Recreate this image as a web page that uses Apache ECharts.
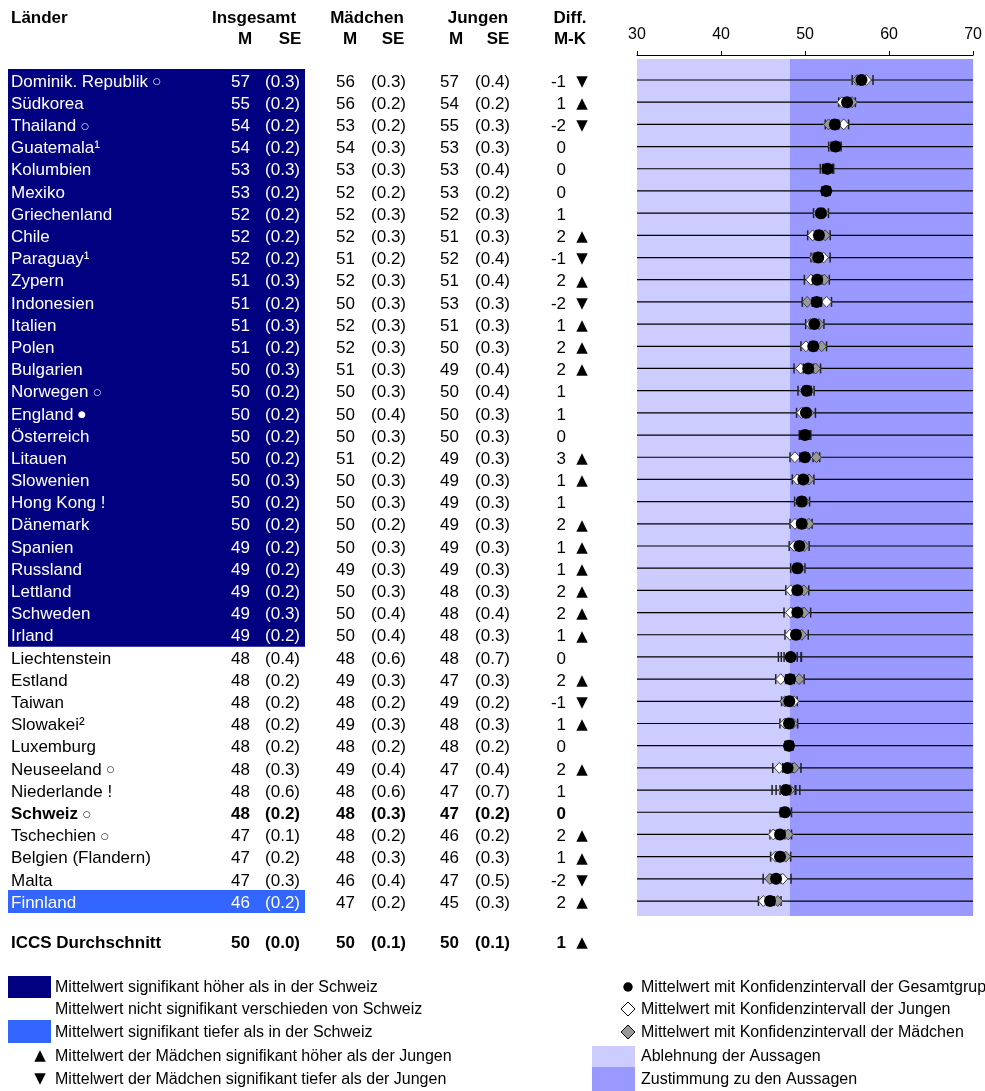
<!DOCTYPE html>
<html>
<head>
<meta charset="utf-8">
<script src="https://cdn.jsdelivr.net/npm/echarts@6.0.0/dist/echarts.min.js"></script>
<style>
  html, body { margin: 0; padding: 0; background: #fff; }
  #chart { width: 985px; height: 1091px; }
</style>
</head>
<body>
<div id="chart"></div>
<script>
// ---- data ----
const countries = ['Dominik. Republik', 'Südkorea', 'Thailand', 'Guatemala¹', 'Kolumbien', 'Mexiko', 'Griechenland', 'Chile', 'Paraguay¹', 'Zypern', 'Indonesien', 'Italien', 'Polen', 'Bulgarien', 'Norwegen', 'England', 'Österreich', 'Litauen', 'Slowenien', 'Hong Kong !', 'Dänemark', 'Spanien', 'Russland', 'Lettland', 'Schweden', 'Irland', 'Liechtenstein', 'Estland', 'Taiwan', 'Slowakei²', 'Luxemburg', 'Neuseeland', 'Niederlande !', 'Schweiz', 'Tschechien', 'Belgien (Flandern)', 'Malta', 'Finnland']
const nameMarks = ['○', '', '○', '', '', '', '', '', '', '', '', '', '', '', '○', '●', '', '', '', '', '', '', '', '', '', '', '', '', '', '', '', '○', '', '○', '○', '', '', '']
// 'h' = signifikant höher, 'l' = signifikant tiefer, '' = nicht signifikant
const sigGroup = ['h', 'h', 'h', 'h', 'h', 'h', 'h', 'h', 'h', 'h', 'h', 'h', 'h', 'h', 'h', 'h', 'h', 'h', 'h', 'h', 'h', 'h', 'h', 'h', 'h', 'h', '', '', '', '', '', '', '', '', '', '', '', 'l']

const totalM = [57, 55, 54, 54, 53, 53, 52, 52, 52, 51, 51, 51, 51, 50, 50, 50, 50, 50, 50, 50, 50, 49, 49, 49, 49, 49, 48, 48, 48, 48, 48, 48, 48, 48, 47, 47, 47, 46]
const totalSE = [0.3, 0.2, 0.2, 0.2, 0.3, 0.2, 0.2, 0.2, 0.2, 0.3, 0.2, 0.3, 0.2, 0.3, 0.2, 0.2, 0.2, 0.2, 0.3, 0.2, 0.2, 0.2, 0.2, 0.2, 0.3, 0.2, 0.4, 0.2, 0.2, 0.2, 0.2, 0.3, 0.6, 0.2, 0.1, 0.2, 0.3, 0.2]
const girlsM = [56, 56, 53, 54, 53, 52, 52, 52, 51, 52, 50, 52, 52, 51, 50, 50, 50, 51, 50, 50, 50, 50, 49, 50, 50, 50, 48, 49, 48, 49, 48, 49, 48, 48, 48, 48, 46, 47]
const girlsSE = [0.3, 0.2, 0.2, 0.3, 0.3, 0.2, 0.3, 0.3, 0.2, 0.3, 0.3, 0.3, 0.3, 0.3, 0.3, 0.4, 0.3, 0.2, 0.3, 0.3, 0.2, 0.3, 0.3, 0.3, 0.4, 0.4, 0.6, 0.3, 0.2, 0.3, 0.2, 0.4, 0.6, 0.3, 0.2, 0.3, 0.4, 0.2]
const boysM = [57, 54, 55, 53, 53, 53, 52, 51, 52, 51, 53, 51, 50, 49, 50, 50, 50, 49, 49, 49, 49, 49, 49, 48, 48, 48, 48, 47, 49, 48, 48, 47, 47, 47, 46, 46, 47, 45]
const boysSE = [0.4, 0.2, 0.3, 0.3, 0.4, 0.2, 0.3, 0.3, 0.4, 0.4, 0.3, 0.3, 0.3, 0.4, 0.4, 0.3, 0.3, 0.3, 0.3, 0.3, 0.3, 0.3, 0.3, 0.3, 0.4, 0.3, 0.7, 0.3, 0.2, 0.3, 0.2, 0.4, 0.7, 0.2, 0.2, 0.3, 0.5, 0.3]
const diffMK = [-1, 1, -2, 0, 0, 0, 1, 2, -1, 2, -2, 1, 2, 2, 1, 1, 0, 3, 1, 1, 2, 1, 1, 2, 2, 1, 0, 2, -1, 1, 0, 2, 1, 0, 2, 1, -2, 2]
const diffSig = ['▼', '▲', '▼', '', '', '', '', '▲', '▼', '▲', '▼', '▲', '▲', '▲', '', '', '', '▲', '▲', '', '▲', '▲', '▲', '▲', '▲', '▲', '', '▲', '▼', '▲', '', '▲', '', '', '▲', '▲', '▼', '▲']

// unrounded means as plotted
const plotTotal = [56.72, 55.0, 53.55, 53.63, 52.68, 52.52, 51.89, 51.65, 51.57, 51.45, 51.38, 51.1, 50.98, 50.38, 50.19, 50.11, 49.99, 49.99, 49.79, 49.6, 49.6, 49.32, 49.08, 49.08, 49.08, 48.92, 48.29, 48.21, 48.13, 48.09, 48.09, 47.93, 47.73, 47.61, 47.02, 47.02, 46.55, 45.83]
const plotGirls = [56.2, 55.6, 52.8, 53.7, 52.8, 52.4, 52.2, 52.4, 51.1, 52.3, 50.26, 51.66, 51.97, 51.26, 50.49, 50.45, 50.1, 51.35, 50.47, 49.95, 50.45, 49.9, 49.4, 49.85, 49.88, 49.6, 48.35, 49.3, 47.6, 48.53, 48.2, 48.73, 48.2, 47.8, 48.0, 47.7, 45.8, 46.75]
const plotBoys = [57.3, 54.4, 54.6, 53.4, 52.6, 52.6, 51.6, 50.9, 52.2, 50.7, 52.56, 50.66, 50.1, 49.47, 49.95, 49.58, 49.9, 48.8, 49.07, 49.35, 48.8, 48.7, 48.87, 48.3, 48.28, 48.2, 48.2, 47.1, 48.68, 47.6, 48.0, 46.94, 47.45, 47.45, 46.22, 46.49, 47.35, 45.04]

const avgLabel = 'ICCS Durchschnitt'
const avgValues = [50, 0.0, 50, 0.1, 50, 0.1]
const avgDiff = 1
const avgSig = '▲'
const avgRow = 38.8

// scale background: Ablehnung / Zustimmung
const bands = [[30, 48.2, '#CCCCFF'], [48.2, 70, '#9999FF']]
const bandRows = [-0.95, 37.67]
const xTicks = [30, 40, 50, 60, 70]

// ---- layout ----
const FONT = "'Liberation Sans', Arial, Helvetica, sans-serif"
const colRight = [250, 300, 355, 406, 459, 510, 566]
const arrowX = 582
const rowShift = 2
const navy = '#000080'
const lightBlue = '#3366FF'

const chart = echarts.init(document.getElementById('chart'))

function txt(x, y, text, align, color, bold, size, family) {
  return {
    type: 'text',
    style: {
      text: text, x: x, y: y, fill: color,
      fontSize: size || 17, fontFamily: family || FONT, fontWeight: bold ? 'bold' : 'normal',
      align: align, verticalAlign: 'middle', textAlign: align, textVerticalAlign: 'middle',
      rich: { s: { fontSize: 9, fontFamily: 'DejaVu Sans', fill: color } },
    },
  }
}

function renderTable(params, api) {
  const i = api.value(1)
  const kind = api.value(2)
  const coord = (x, r) => api.coord([x, r])
  const y = coord(0, i)[1] + rowShift
  const children = []
  let name, vals, d, arrow, color = '#000', bold = false
  if (kind === 1) {
    name = avgLabel
    vals = avgValues
    d = avgDiff
    arrow = avgSig
    bold = true
  } else {
    name = countries[i] + (nameMarks[i] ? ' {s|' + nameMarks[i] + '}' : '')
    vals = [totalM[i], totalSE[i], girlsM[i], girlsSE[i], boysM[i], boysSE[i]]
    d = diffMK[i]
    arrow = diffSig[i]
    bold = countries[i] === 'Schweiz'
    if (sigGroup[i]) {
      const top = coord(8, i - 0.5), bot = coord(305, i + 0.5)
      children.push({
        type: 'rect',
        shape: { x: top[0], y: top[1], width: bot[0] - top[0], height: bot[1] - top[1] + 1 },
        style: { fill: sigGroup[i] === 'h' ? navy : lightBlue },
      })
      color = '#fff'
    }
  }
  children.push(txt(coord(11, i)[0], y, name, 'left', color, bold))
  vals.forEach((v, k) => {
    const s = k % 2 === 0 ? String(v) : '(' + v.toFixed(1) + ')'
    // only the Insgesamt columns sit on the coloured band
    children.push(txt(coord(colRight[k], i)[0], y, s, 'right', k < 2 ? color : '#000', bold))
  })
  children.push(txt(coord(colRight[6], i)[0], y, String(d), 'right', '#000', bold))
  if (arrow) children.push(txt(coord(arrowX, i)[0], y, arrow, 'center', '#000', false, 15, 'DejaVu Sans'))
  return { type: 'group', children: children }
}

function diamond(x, y, fill) {
  return {
    type: 'polygon',
    shape: { points: [[x - 5, y], [x, y - 5.5], [x + 5, y], [x, y + 5.5]] },
    style: { fill: fill, stroke: '#444', lineWidth: 1 },
  }
}

function renderPlot(params, api) {
  const i = api.value(0)
  const y = api.coord([30, i])[1]
  const x0 = api.coord([30, i])[0], x1 = api.coord([70, i])[0]
  const children = [{
    type: 'line',
    shape: { x1: x0, y1: y, x2: x1, y2: y },
    style: { stroke: '#000', lineWidth: 1.2 },
  }]
  const groups = [[api.value(1), api.value(4)], [api.value(2), api.value(5)], [api.value(3), api.value(6)]]
  groups.forEach(([m, se]) => {
    [m - 1.96 * se, m + 1.96 * se].forEach((e) => {
      const x = api.coord([e, i])[0]
      children.push({
        type: 'line',
        shape: { x1: x, y1: y - 5, x2: x, y2: y + 5 },
        style: { stroke: '#222', lineWidth: 1.5 },
      })
    })
  })
  children.push(diamond(api.coord([api.value(2), i])[0], y, '#999'))
  children.push(diamond(api.coord([api.value(3), i])[0], y, '#fff'))
  children.push({
    type: 'circle',
    shape: { cx: api.coord([api.value(1), i])[0], cy: y, r: 6 },
    style: { fill: '#000' },
  })
  return { type: 'group', children: children }
}

function renderBand(params, api) {
  const a = api.coord([api.value(0), bandRows[0]])
  const b = api.coord([api.value(1), bandRows[1]])
  return {
    type: 'rect',
    shape: { x: a[0], y: a[1], width: b[0] - a[0], height: b[1] - a[1] },
    style: { fill: bands[params.dataIndex][2] },
  }
}

const tableData = countries.map((c, i) => [0, i, 0]).concat([[0, avgRow, 1]])
const plotData = countries.map((c, i) => [i, plotTotal[i], plotGirls[i], plotBoys[i], totalSE[i], girlsSE[i], boysSE[i]])

const yCommon = { type: 'value', inverse: true, min: -1.127, max: 39.5, show: false }

const hdr = (x, y, text, align) => ({
  type: 'text', x: x, y: y,
  style: { text: text, fill: '#000', font: 'bold 17px ' + FONT, textAlign: align, textVerticalAlign: 'middle' },
})
const leg = (x, y, text) => ({
  type: 'text', x: x, y: y,
  style: { text: text, fill: '#000', font: '16px ' + FONT, textAlign: 'left', textVerticalAlign: 'middle' },
})
const dia = (x, y, fill) => ({
  type: 'polygon',
  shape: { points: [[x - 7, y], [x, y - 7], [x + 7, y], [x, y + 7]] },
  style: { fill: fill, stroke: '#000', lineWidth: 1 },
})

const option = {
  animation: false,
  grid: [
    { left: 637, width: 337, top: 55, height: 901.5 },
    { left: 0, width: 985, top: 55, height: 901.5 },
  ],
  xAxis: [
    {
      gridIndex: 0, type: 'value', position: 'top', min: 30, max: 70, interval: 10,
      axisLine: { show: true, onZero: false, lineStyle: { color: '#000', width: 1 } },
      axisTick: { show: true, length: 4, lineStyle: { color: '#000' } },
      axisLabel: { color: '#000', fontSize: 16, fontFamily: FONT, margin: 12,
        formatter: (v) => (xTicks.indexOf(v) >= 0 ? String(v) : '') },
      splitLine: { show: false },
    },
    { gridIndex: 1, type: 'value', min: 0, max: 985, show: false },
  ],
  yAxis: [
    Object.assign({ gridIndex: 0 }, yCommon),
    Object.assign({ gridIndex: 1 }, yCommon),
  ],
  series: [
    {
      type: 'custom', xAxisIndex: 0, yAxisIndex: 0, renderItem: renderBand,
      data: bands.map((b) => [b[0], b[1]]), encode: { x: [0, 1] }, clip: false, z: 1,
    },
    {
      type: 'custom', xAxisIndex: 0, yAxisIndex: 0, renderItem: renderPlot,
      data: plotData, encode: { x: [1, 2, 3], y: 0 }, clip: false, z: 2,
    },
    {
      type: 'custom', xAxisIndex: 1, yAxisIndex: 1, renderItem: renderTable,
      data: tableData, encode: { x: 0, y: 1 }, clip: false, z: 3,
    },
  ],
  graphic: [
    hdr(11, 18, 'Länder', 'left'),
    hdr(254, 18, 'Insgesamt', 'center'),
    hdr(245, 39, 'M', 'center'),
    hdr(290, 39, 'SE', 'center'),
    hdr(367, 18, 'Mädchen', 'center'),
    hdr(350, 39, 'M', 'center'),
    hdr(393, 39, 'SE', 'center'),
    hdr(478, 18, 'Jungen', 'center'),
    hdr(456, 39, 'M', 'center'),
    hdr(498, 39, 'SE', 'center'),
    hdr(570, 18, 'Diff.', 'center'),
    hdr(570, 39, 'M-K', 'center'),

    { type: 'rect', shape: { x: 8, y: 976, width: 43, height: 22 }, style: { fill: navy } },
    leg(55, 988, 'Mittelwert signifikant höher als in der Schweiz'),
    leg(55, 1010, 'Mittelwert nicht signifikant verschieden von Schweiz'),
    { type: 'rect', shape: { x: 8, y: 1020, width: 43, height: 23 }, style: { fill: lightBlue } },
    leg(55, 1033, 'Mittelwert signifikant tiefer als in der Schweiz'),
    { type: 'text', x: 40, y: 1056, style: { text: '▲', fill: '#000', font: '15px DejaVu Sans', textAlign: 'center', textVerticalAlign: 'middle' } },
    leg(55, 1057, 'Mittelwert der Mädchen signifikant höher als der Jungen'),
    { type: 'text', x: 40, y: 1079, style: { text: '▼', fill: '#000', font: '15px DejaVu Sans', textAlign: 'center', textVerticalAlign: 'middle' } },
    leg(55, 1080, 'Mittelwert der Mädchen signifikant tiefer als der Jungen'),

    { type: 'circle', shape: { cx: 628, cy: 987, r: 4.7 }, style: { fill: '#000' } },
    leg(641, 988, 'Mittelwert mit Konfidenzintervall der Gesamtgruppe'),
    dia(628, 1009, '#fff'),
    leg(641, 1010, 'Mittelwert mit Konfidenzintervall der Jungen'),
    dia(628, 1032, '#999'),
    leg(641, 1033, 'Mittelwert mit Konfidenzintervall der Mädchen'),
    { type: 'rect', shape: { x: 592, y: 1046, width: 43, height: 21 }, style: { fill: '#CCCCFF' } },
    leg(641, 1057, 'Ablehnung der Aussagen'),
    { type: 'rect', shape: { x: 592, y: 1067, width: 43, height: 24 }, style: { fill: '#9999FF' } },
    leg(641, 1080, 'Zustimmung zu den Aussagen'),
  ],
}

chart.setOption(option)
</script>
</body>
</html>
